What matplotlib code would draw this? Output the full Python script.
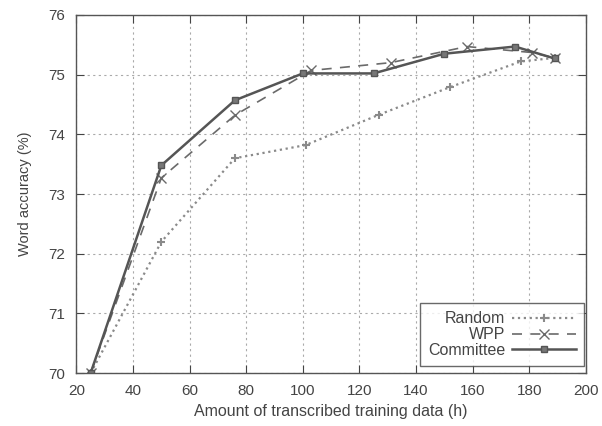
import matplotlib.pyplot as plt

plt.rcParams['font.family'] = ['Liberation Sans', 'DejaVu Sans']

# data
x_rand = [25, 50, 76, 101, 127, 152, 177, 189]
y_rand = [70.0, 72.2, 73.6, 73.82, 74.33, 74.79, 75.22, 75.28]
x_wpp = [25, 50, 76, 103, 131, 158, 181, 189]
y_wpp = [70.0, 73.27, 74.32, 75.07, 75.2, 75.47, 75.37, 75.28]
x_com = [25, 50, 76, 100, 125, 150, 175, 189]
y_com = [70.0, 73.48, 74.57, 75.02, 75.02, 75.35, 75.47, 75.27]

fig = plt.figure(figsize=(6.02, 4.26), dpi=100)
ax = fig.add_axes([0.127, 0.124, 0.846, 0.841])

ax.plot(x_rand, y_rand, ':', color='#8a8a8a', lw=1.6, marker='+', ms=6, mew=1.5, label='Random')
ax.plot(x_wpp, y_wpp, '--', color='#6a6a6a', lw=1.2, marker='x', ms=7, mew=1.0,
        dashes=(6, 5), label='WPP')
ax.plot(x_com, y_com, '-', color='#555555', lw=1.8, marker='s', ms=5, mew=1.0,
        mfc='#777777', label='Committee')

ax.set_xlim(20, 200)
ax.set_ylim(70, 76)
ax.set_xticks(range(20, 201, 20))
ax.set_yticks(range(70, 77))
ax.grid(True, linestyle=(0, (2, 3)), color='#aaaaaa', lw=0.8)
ax.tick_params(direction='in', top=True, right=True, length=6, labelsize=11,
               colors='#444444', pad=8)
for s in ax.spines.values():
    s.set_color('#555555')
    s.set_linewidth(1.0)

ax.set_xlabel('Amount of transcribed training data (h)', fontsize=11.5, color='#444444',
              labelpad=4)
ax.set_ylabel('Word accuracy (%)', fontsize=10.5, color='#444444', labelpad=12)

leg = ax.legend(loc='lower right', bbox_to_anchor=(0.996, 0.02), markerfirst=False,
                numpoints=1, fontsize=11.5, frameon=True, fancybox=False,
                handlelength=4.0, borderaxespad=0, labelspacing=0.05,
                handletextpad=0.4, borderpad=0.5)
leg.get_frame().set_edgecolor('#444444')
leg.get_frame().set_linewidth(1.0)
for t in leg.get_texts():
    t.set_ha('right')
    t.set_color('#444444')

fig.savefig('out.png', dpi=100)
